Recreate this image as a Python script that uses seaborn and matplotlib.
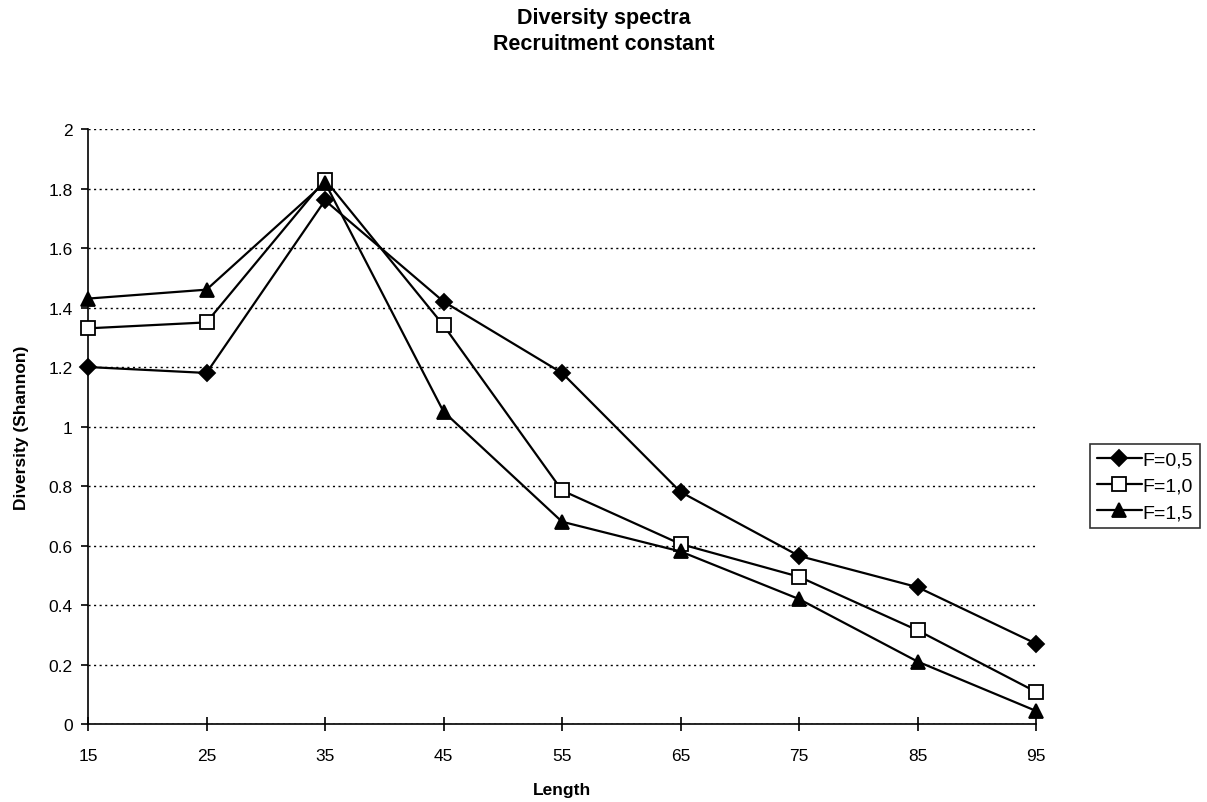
import matplotlib
matplotlib.use("Agg")
import matplotlib.pyplot as plt
import seaborn as sns
import pandas as pd

length = [15, 25, 35, 45, 55, 65, 75, 85, 95]
f05 = [1.20, 1.18, 1.76, 1.42, 1.18, 0.78, 0.565, 0.46, 0.27]
f10 = [1.33, 1.35, 1.83, 1.34, 0.785, 0.605, 0.495, 0.315, 0.108]
f15 = [1.43, 1.46, 1.82, 1.05, 0.68, 0.58, 0.42, 0.21, 0.044]
series_names = ["F=0,5", "F=1,0", "F=1,5"]
y_ticks = [0, 0.2, 0.4, 0.6, 0.8, 1.0, 1.2, 1.4, 1.6, 1.8, 2.0]
y_tick_labels = ["0", "0.2", "0.4", "0.6", "0.8", "1", "1.2", "1.4", "1.6", "1.8", "2"]

df = pd.DataFrame({
    "Length": length * 3,
    "Diversity": f05 + f10 + f15,
    "F": sum([[n] * len(length) for n in series_names], []),
})

sns.set_theme(style="white")
plt.rcParams["font.family"] = ["Liberation Sans", "DejaVu Sans"]
plt.rcParams.update({
    "text.color": "black",
    "axes.labelcolor": "black",
    "xtick.color": "black",
    "ytick.color": "black",
})

fig = plt.figure(figsize=(12.07, 8.03), dpi=100)
ax = fig.add_axes([0.0729, 0.0971, 0.7855, 0.741])

styles = {
    "F=0,5": dict(marker="D", markerfacecolor="black", markersize=8),
    "F=1,0": dict(marker="s", markerfacecolor="white", markersize=10),
    "F=1,5": dict(marker="^", markerfacecolor="black", markersize=10),
}
for name in series_names:
    sub = df[df["F"] == name]
    sns.lineplot(data=sub, x="Length", y="Diversity", ax=ax, color="black",
                 linewidth=1.6, markeredgecolor="black", markeredgewidth=1.3,
                 label=name, clip_on=False, zorder=5, **styles[name])

ax.set_xlim(15, 95)
ax.set_ylim(0, 2)
ax.set_xticks(length)
ax.set_xticklabels([str(v) for v in length])
ax.set_yticks(y_ticks)
ax.set_yticklabels(y_tick_labels)
ax.yaxis.grid(True, linestyle=(0, (1.5, 2.5)), color="black", linewidth=1.0)
ax.xaxis.grid(False)

for side in ["top", "right"]:
    ax.spines[side].set_visible(False)
for side in ["left", "bottom"]:
    ax.spines[side].set_color("black")
    ax.spines[side].set_linewidth(1.2)

ax.tick_params(axis="x", direction="inout", length=10, width=1.2,
               labelsize=12.5, pad=12, bottom=True)
ax.tick_params(axis="y", direction="out", length=5, width=1.2,
               labelsize=12.5, pad=6, left=True)

ax.set_xlabel("Length", fontsize=12.5, fontweight="bold", labelpad=14)
ax.set_ylabel("Diversity (Shannon)", fontsize=12.5, fontweight="bold", labelpad=14)

fig.text(0.5, 0.977, "Diversity spectra", ha="center", va="center",
         fontsize=15.5, fontweight="bold")
fig.text(0.5, 0.944, "Recruitment constant", ha="center", va="center",
         fontsize=15.5, fontweight="bold")

leg = ax.legend(loc="center left", bbox_to_anchor=(1.057, 0.40), frameon=True,
                fancybox=False, edgecolor="black", fontsize=14,
                handlelength=2.3, handletextpad=0.05, borderpad=0.35,
                labelspacing=0.45, borderaxespad=0)
leg.get_frame().set_linewidth(1.2)

fig.savefig("out.png", dpi=100, facecolor="white")
